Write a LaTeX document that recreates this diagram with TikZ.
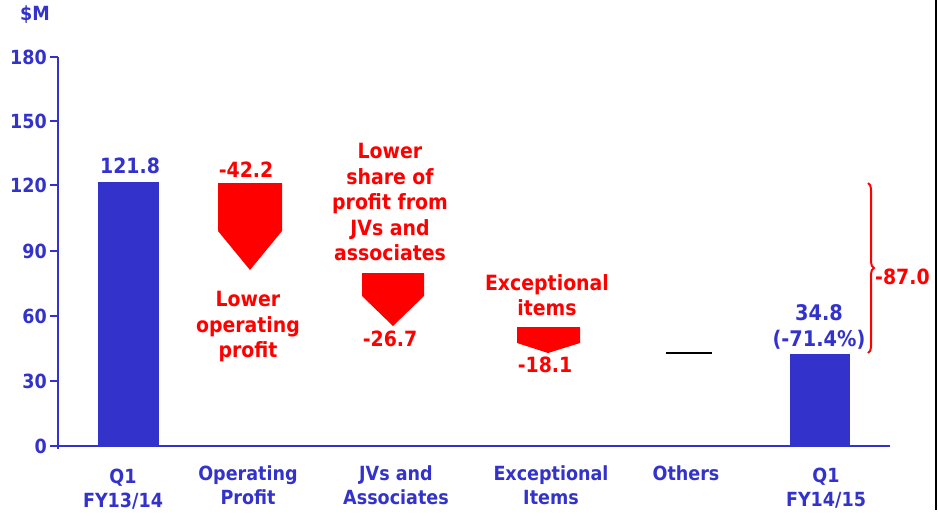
\documentclass[tikz,border=0pt]{standalone}
\usepackage{fontspec}
\setmainfont{DejaVu Sans}[FakeStretch=0.9]
\usetikzlibrary{decorations.pathreplacing}
\definecolor{cblue}{HTML}{3333CC}
\definecolor{cred}{HTML}{FF0000}
\tikzset{
  txt/.style={inner sep=0pt, align=center, font=\bfseries\fontsize{21}{25.5}\selectfont},
  bluetxt/.style={txt, text=cblue},
  redtxt/.style={txt, text=cred},
  cattxt/.style={bluetxt, font=\bfseries\fontsize{19.5}{23.5}\selectfont},
  ticklbl/.style={bluetxt, anchor=east, font=\bfseries\fontsize{19.5}{24}\selectfont},
  axisline/.style={draw=cblue, line width=2pt},
  barfill/.style={fill=cblue},
  arrowfill/.style={fill=cred},
}
\begin{document}
\begin{tikzpicture}[x=1pt,y=-1pt]
\useasboundingbox (0,0) rectangle (938,517);
% right border line
\coordinate (rt) at (936,0);
\coordinate (rb) at (936,510);
\draw[line width=2.5pt, black] (rt) -- (rb);
% axes
\coordinate (yaxtop) at (58,57);
\coordinate (origin) at (58,446);
\coordinate (xaxend) at (890,446);
\draw[axisline] (yaxtop) -- (58,449);
\draw[axisline] (origin) -- (xaxend);
\foreach \v/\yy in {0/446,30/381,60/316,90/251,120/185,150/121,180/57}{
  \coordinate (t\v) at (58,\yy);
  \draw[axisline] (t\v) -- ++(-8,0);
  \node[ticklbl] (tl\v) at (47,\yy) {\v};
}
\node[cattxt] (unit) at (35,15) {\$M};
% bars
\fill[barfill] (98,182) rectangle (159,446);
\fill[barfill] (790,354) rectangle (850,446);
% red arrows
\fill[arrowfill] (218,183) -- (282,183) -- (282,231) -- (250,270) -- (218,231) -- cycle;
\fill[arrowfill] (362,273) -- (424,273) -- (424,296) -- (393,326) -- (362,296) -- cycle;
\fill[arrowfill] (517,327) -- (580,327) -- (580,343) -- (548,353) -- (517,343) -- cycle;
% others line
\coordinate (oa) at (666,353);
\coordinate (ob) at (712,353);
\draw[line width=2.5pt, black] (oa) -- (ob);
% brace
\coordinate (bt) at (868,183);
\coordinate (bb) at (868,353);
\draw[cred, line width=2pt, decorate, decoration={brace, amplitude=6pt}] (bt) -- (bb);
\node[redtxt, anchor=west] (total) at (875,277) {-87.0};
% value labels
\node[bluetxt] (v1) at (130,166) {121.8};
\node[redtxt] (v2) at (246,170) {-42.2};
\node[redtxt] (d2) at (248,327) {Lower\\operating\\profit};
\node[redtxt] (d3) at (390,202) {Lower\\share of\\profit from\\JVs and\\associates};
\node[redtxt] (v3) at (390,339) {-26.7};
\node[redtxt] (d4) at (547,295) {Exceptional\\items};
\node[redtxt] (v4) at (545,365) {-18.1};
\node[bluetxt, font=\bfseries\fontsize{21.5}{25.5}\selectfont] (v6) at (819,327) {34.8\\(-71.4\%)};
% category labels
\node[cattxt] (c1) at (123,489) {Q1\\FY13/14};
\node[cattxt] (c2) at (248,485) {Operating\\Profit};
\node[cattxt] (c3) at (396,485) {JVs and\\Associates};
\node[cattxt] (c4) at (551,485) {Exceptional\\Items};
\node[cattxt] (c5) at (686,473) {Others};
\node[cattxt] (c6) at (826,488) {Q1\\FY14/15};
\end{tikzpicture}
\end{document}
